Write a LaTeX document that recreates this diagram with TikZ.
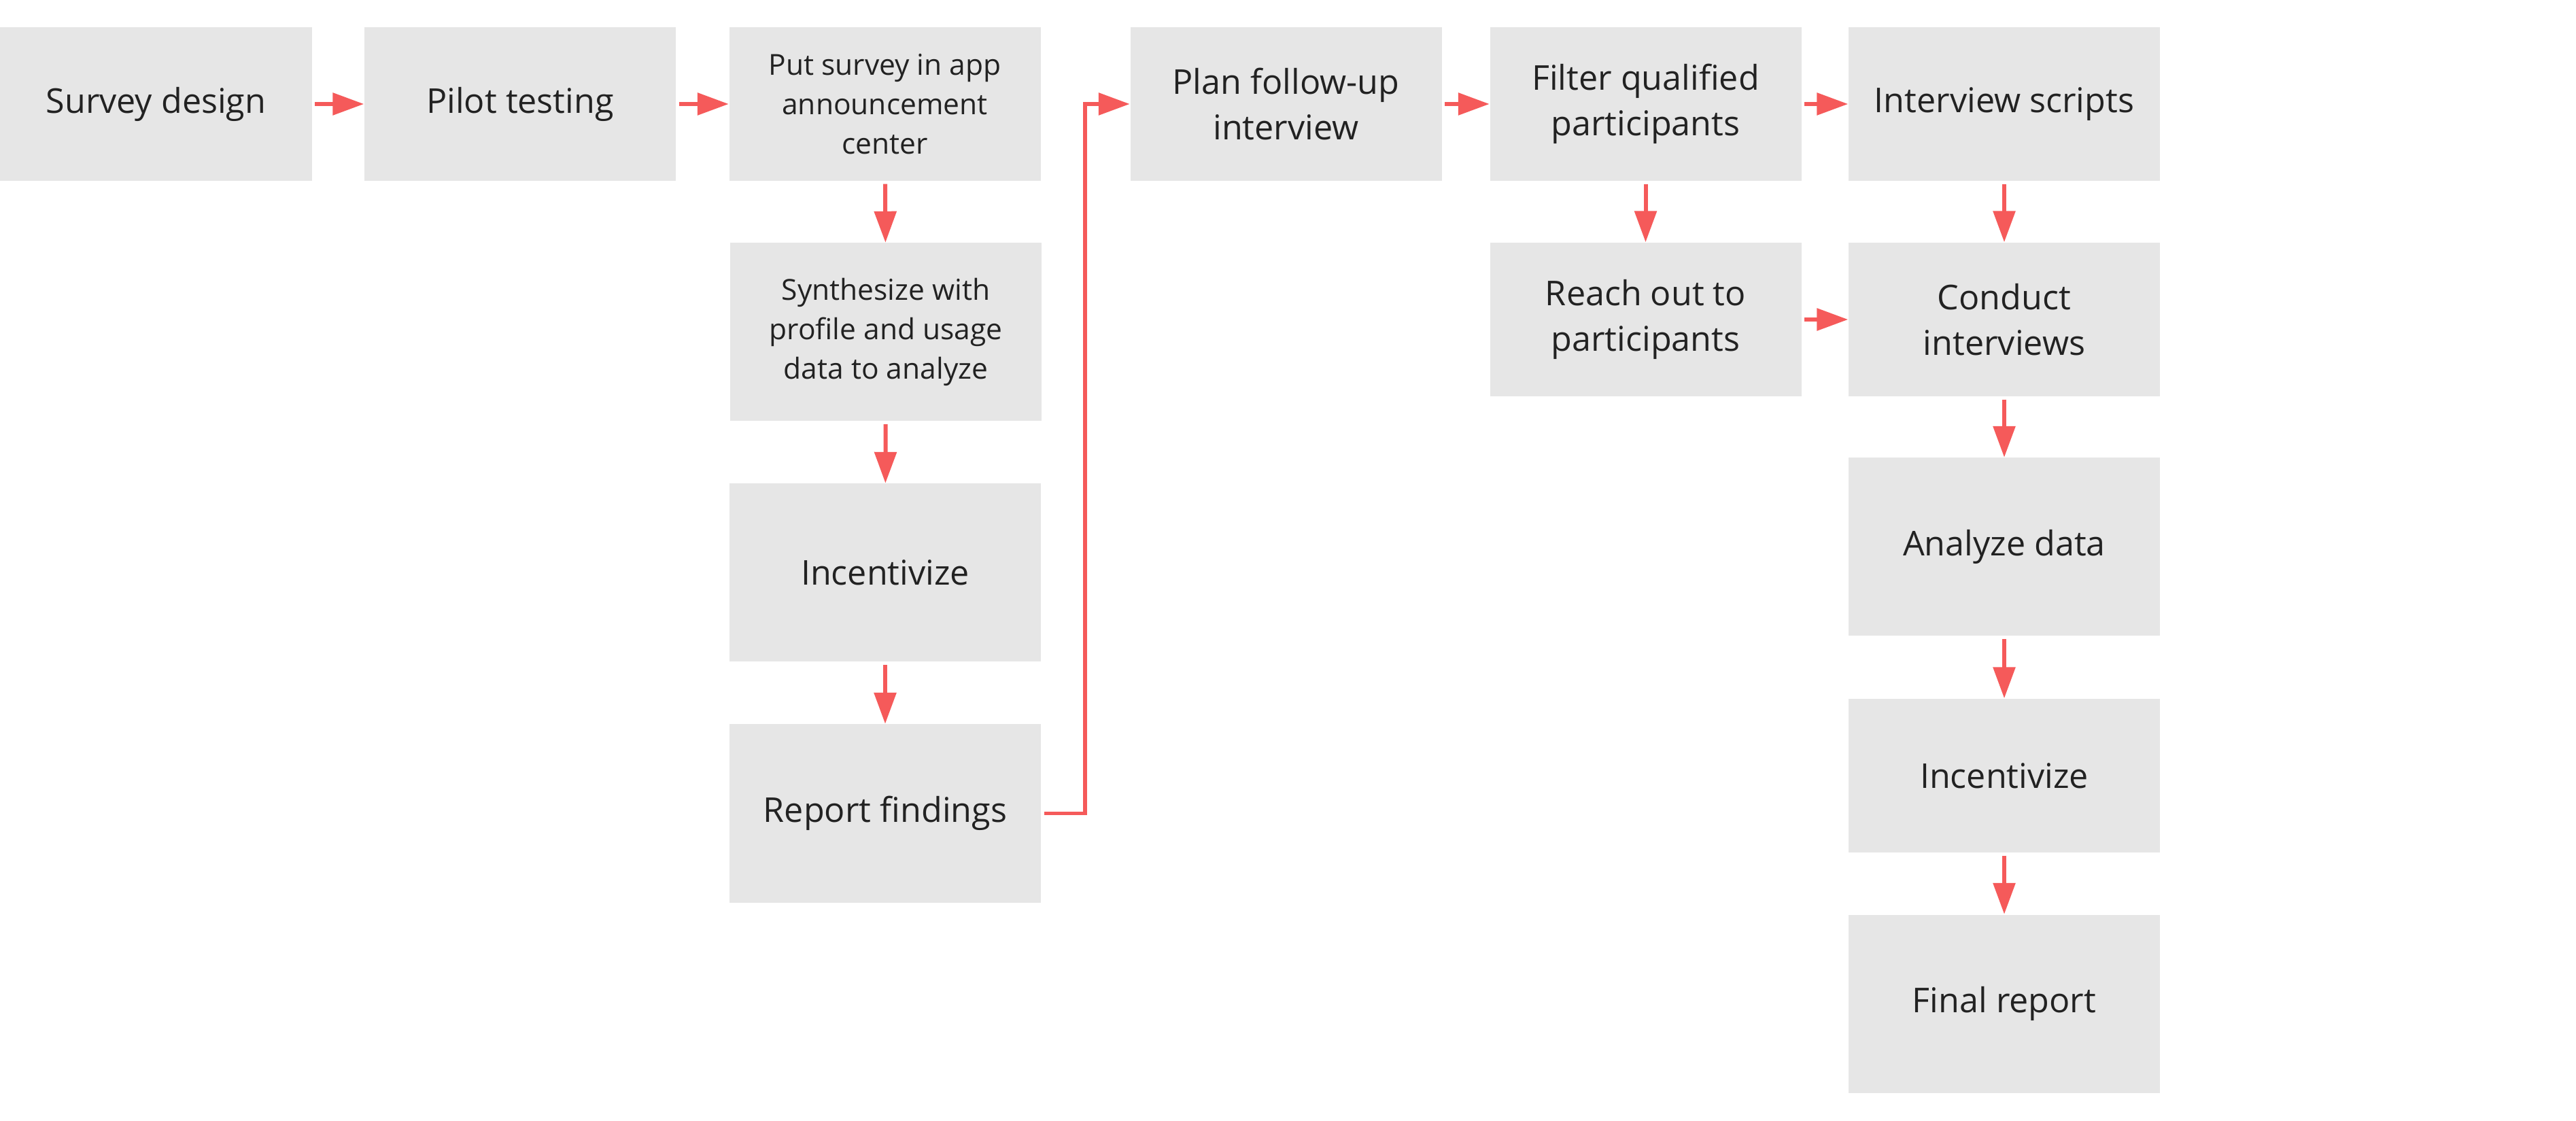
\documentclass[tikz,border=0pt]{standalone}
\usepackage{fontspec}
\setmainfont{Open Sans}
\usetikzlibrary{arrows.meta}
\definecolor{kasten}{HTML}{E6E6E6}
\definecolor{pfeilrot}{HTML}{F55A5A}
\definecolor{schrift}{HTML}{222222}

\begin{document}
\begin{tikzpicture}[
        schritt/.style={fill=kasten, text=schrift, minimum width=4.58cm, minimum height=2.26cm, inner sep=0pt, align=center, font=\fontsize{14.3}{19.0}\selectfont},
        hoch/.style={minimum height=2.62cm},
        klein/.style={font=\fontsize{12.1}{16.6}\selectfont},
        pfeil/.style={draw=pfeilrot, line width=1.7pt, -{Triangle[length=4.6mm,width=3.2mm]}, shorten <=0.4mm}
    ]
        % Hintergrund
        \fill[white] (0,0) rectangle (37.89,-16.49);
        \useasboundingbox (0,0) rectangle (37.89,-16.49);

        % Umfrage
        \node[schritt] (survey) at (2.295,-1.53) {Survey design};
        \node[schritt] (pilot) at (7.65,-1.53) {Pilot testing};
        \node[schritt, klein] (put) at (13.015,-1.53) {Put survey in app\\announcement\\center};
        \node[schritt, hoch, klein] (synth) at (13.03,-4.885) {Synthesize with\\profile and usage\\data to analyze};
        \node[schritt, hoch] (incent) at (13.02,-8.425) {Incentivize};
        \node[schritt, hoch] (report) at (13.02,-11.965) {Report findings};

        % Interviews
        \node[schritt] (plan) at (18.915,-1.53) {Plan follow-up\\interview};
        \node[schritt] (filter) at (24.205,-1.53) {Filter qualified\\participants};
        \node[schritt] (scripts) at (29.48,-1.53) {Interview scripts};
        \node[schritt] (reach) at (24.205,-4.70) {Reach out to\\participants};
        \node[schritt] (conduct) at (29.48,-4.70) {Conduct\\interviews};
        \node[schritt, hoch] (analyze) at (29.48,-8.045) {Analyze data};
        \node[schritt] (incenttwo) at (29.48,-11.41) {Incentivize};
        \node[schritt, hoch] (final) at (29.48,-14.765) {Final report};

        % Pfeile
        \draw[pfeil] (survey) -- (pilot);
        \draw[pfeil] (pilot) -- (put);
        \draw[pfeil] (put) -- (synth);
        \draw[pfeil] (synth) -- (incent);
        \draw[pfeil] (incent) -- (report);
        \draw[pfeil] (report.east) -- ++(0.64,0) |- (plan.west);
        \draw[pfeil] (plan) -- (filter);
        \draw[pfeil] (filter) -- (scripts);
        \draw[pfeil] (filter) -- (reach);
        \draw[pfeil] (scripts) -- (conduct);
        \draw[pfeil] (reach) -- (conduct);
        \draw[pfeil] (conduct) -- (analyze);
        \draw[pfeil] (analyze) -- (incenttwo);
        \draw[pfeil] (incenttwo) -- (final);
    \end{tikzpicture}
\end{document}
